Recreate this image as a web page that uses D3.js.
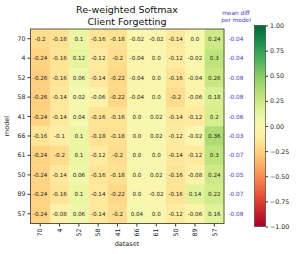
<!DOCTYPE html>
<html lang="en">
<head>
<meta charset="utf-8">
<title>Re-weighted Softmax heatmap</title>
<script src="https://cdn.jsdelivr.net/npm/d3@7"></script>
<style>
  body { margin: 0; background: #fff; }
  text { font-family: "DejaVu Sans", sans-serif; }
</style>
</head>
<body>
<script>
var models = ["70", "4", "52", "58", "41", "66", "61", "50", "89", "57"];
var datasets = ["70", "4", "52", "58", "41", "66", "61", "50", "89", "57"];
var values = [
  [-0.2, -0.18, 0.1, -0.16, -0.18, -0.02, -0.02, -0.14, 0.0, 0.24],
  [-0.24, -0.16, 0.12, -0.12, -0.2, -0.04, 0.0, -0.12, -0.02, 0.3],
  [-0.26, -0.16, 0.06, -0.14, -0.22, -0.04, 0.0, -0.16, -0.04, 0.26],
  [-0.26, -0.14, 0.02, -0.06, -0.22, -0.04, 0.0, -0.2, -0.06, 0.18],
  [-0.24, -0.14, 0.04, -0.16, -0.16, 0.0, 0.02, -0.14, -0.12, 0.2],
  [-0.16, -0.1, 0.1, -0.18, -0.18, 0.0, 0.02, -0.12, -0.02, 0.36],
  [-0.24, -0.2, 0.1, -0.12, -0.2, 0.0, 0.0, -0.14, -0.12, 0.3],
  [-0.24, -0.14, 0.06, -0.16, -0.18, 0.0, 0.02, -0.16, -0.08, 0.24],
  [-0.24, -0.16, 0.1, -0.14, -0.22, 0.0, -0.02, -0.16, 0.14, 0.22],
  [-0.24, -0.08, 0.06, -0.14, -0.2, 0.04, 0.0, -0.12, -0.06, 0.16]
];
var meanDiff = [-0.04, -0.04, -0.08, -0.08, -0.06, -0.03, -0.07, -0.05, -0.07, -0.08];
var cbarTicks = [1, 0.75, 0.5, 0.25, 0, -0.25, -0.5, -0.75, -1];

var w = 297, h = 254;
var svg = d3.select("body").append("svg").attr("width", w).attr("height", h);

var x = d3.scaleBand().domain(datasets.map(function (d, i) { return i; })).range([30.5, 224]);
var y = d3.scaleBand().domain(models.map(function (d, i) { return i; })).range([29, 223.5]);
var color = function (v) { return d3.interpolateRdYlGn((v + 1) / 2); };

// cells
var cells = [];
values.forEach(function (row, r) {
  row.forEach(function (v, c) { cells.push({ r: r, c: c, v: v }); });
});
svg.selectAll("rect.cell").data(cells).enter().append("rect")
  .attr("class", "cell")
  .attr("x", function (d) { return x(d.c); })
  .attr("y", function (d) { return y(d.r); })
  .attr("width", x.bandwidth() + 0.3)
  .attr("height", y.bandwidth() + 0.3)
  .attr("fill", function (d) { return color(d.v); });

svg.selectAll("text.val").data(cells).enter().append("text")
  .attr("class", "val")
  .attr("x", function (d) { return x(d.c) + x.bandwidth() / 2; })
  .attr("y", function (d) { return y(d.r) + y.bandwidth() / 2; })
  .attr("text-anchor", "middle")
  .attr("dominant-baseline", "central")
  .attr("font-size", 5.6)
  .attr("fill", "#222")
  .text(function (d) { return d.v === 0 ? "0.0" : String(d.v); });

// frame
svg.append("rect")
  .attr("x", 30.5).attr("y", 29).attr("width", 193.5).attr("height", 194.5)
  .attr("fill", "none").attr("stroke", "#333").attr("stroke-width", 0.8);

// axes
var xAxis = d3.axisBottom(x).tickSize(3).tickFormat(function (i) { return datasets[i]; });
var gx = svg.append("g").attr("transform", "translate(0,223.5)").call(xAxis);
gx.select(".domain").remove();
gx.selectAll("text")
  .attr("font-size", 6.3).attr("fill", "#222")
  .attr("transform", "rotate(-90)")
  .attr("text-anchor", "end")
  .attr("dy", "0.35em")
  .attr("x", -5).attr("y", 0);
gx.selectAll("line").attr("stroke", "#333");

var yAxis = d3.axisLeft(y).tickSize(3).tickFormat(function (i) { return models[i]; });
var gy = svg.append("g").attr("transform", "translate(30.5,0)").call(yAxis);
gy.select(".domain").remove();
gy.selectAll("text").attr("font-size", 6.3).attr("fill", "#222").attr("x", -5);
gy.selectAll("line").attr("stroke", "#333");

svg.append("text").attr("x", 127).attr("y", 246)
  .attr("text-anchor", "middle").attr("font-size", 6.5).attr("fill", "#222").text("dataset");
svg.append("text").attr("transform", "translate(9,126) rotate(-90)")
  .attr("text-anchor", "middle").attr("font-size", 6.5).attr("fill", "#222").text("model");

// title
svg.append("text").attr("x", 127).attr("y", 13)
  .attr("text-anchor", "middle").attr("font-size", 9.5).attr("fill", "#111").text("Re-weighted Softmax");
svg.append("text").attr("x", 127).attr("y", 25)
  .attr("text-anchor", "middle").attr("font-size", 9.5).attr("fill", "#111").text("Client Forgetting");

// mean diff column
var purple = "#4a35c0";
svg.append("text").attr("x", 236).attr("y", 15)
  .attr("text-anchor", "middle").attr("font-size", 5.8).attr("fill", purple).text("mean diff");
svg.append("text").attr("x", 236).attr("y", 22)
  .attr("text-anchor", "middle").attr("font-size", 5.8).attr("fill", purple).text("per model");
svg.selectAll("text.mean").data(meanDiff).enter().append("text")
  .attr("class", "mean")
  .attr("x", 236)
  .attr("y", function (d, i) { return y(i) + y.bandwidth() / 2; })
  .attr("text-anchor", "middle")
  .attr("dominant-baseline", "central")
  .attr("font-size", 5.8)
  .attr("fill", purple)
  .text(function (d) { return d3.format(".2f")(d).replace("−", "-"); });

// colorbar
var cb = d3.scaleLinear().domain([1, -1]).range([25.5, 226.5]);
var defs = svg.append("defs");
var grad = defs.append("linearGradient").attr("id", "cbg")
  .attr("x1", 0).attr("y1", 0).attr("x2", 0).attr("y2", 1);
d3.range(0, 1.0001, 0.05).forEach(function (t) {
  grad.append("stop").attr("offset", t).attr("stop-color", d3.interpolateRdYlGn(1 - t));
});
svg.append("rect").attr("x", 254.5).attr("y", 25.5).attr("width", 11).attr("height", 201)
  .attr("fill", "url(#cbg)").attr("stroke", "#333").attr("stroke-width", 0.6);
var cbAxis = d3.axisRight(cb).tickValues(cbarTicks).tickSize(2.5)
  .tickFormat(function (d) { return d3.format(".2f")(d); });
var gc = svg.append("g").attr("transform", "translate(265.5,0)").call(cbAxis);
gc.select(".domain").remove();
gc.selectAll("text").attr("font-size", 6.3).attr("fill", "#222").attr("x", 4.5);
gc.selectAll("line").attr("stroke", "#333");
</script>
</body>
</html>
